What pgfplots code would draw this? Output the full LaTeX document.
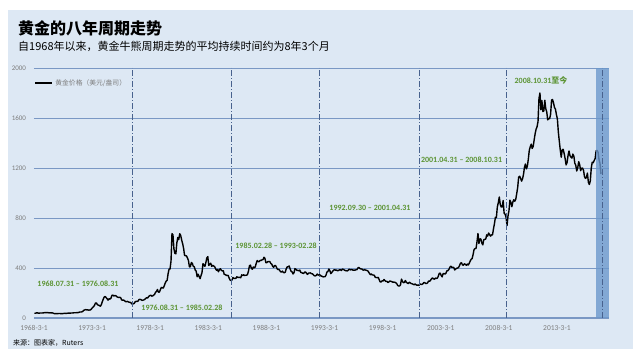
\documentclass[border=0pt]{standalone}
\usepackage{pgfplots}
\usepackage{pgfplotstable}
\pgfplotsset{compat=1.18}
\usepackage{fontspec}
\setmainfont{Carlito}
\newfontfamily\cjk{Noto Sans CJK SC}
\definecolor{bg}{RGB}{221,232,244}
\definecolor{gridc}{RGB}{122,152,196}
\definecolor{vline}{RGB}{72,98,142}
\definecolor{anno}{RGB}{92,148,52}
\definecolor{band}{RGB}{108,152,204}
\definecolor{tickc}{RGB}{125,125,125}
\pgfplotstableread[row sep=\\, header=false]{
38\\38\\41\\41\\39\\39\\40\\40\\40\\41\\
42\\43\\43\\43\\43\\41\\42\\41\\41\\40\\36\\35\\
35\\35\\35\\36\\36\\35\\35\\35\\36\\38\\37\\37\\
38\\39\\39\\39\\40\\40\\41\\42\\42\\42\\43\\43\\
46\\48\\48\\49\\54\\62\\65\\67\\65\\65\\63\\64\\
65\\74\\84\\90\\102\\120\\120\\106\\103\\100\\94\\106\\
129\\150\\168\\172\\163\\154\\143\\154\\151\\158\\181\\183\\
176\\180\\178\\170\\167\\164\\165\\163\\144\\142\\143\\139\\
131\\131\\133\\128\\126\\125\\118\\110\\114\\117\\130\\133\\
132\\136\\148\\149\\147\\141\\143\\145\\149\\158\\162\\161\\
173\\178\\183\\175\\176\\183\\188\\206\\212\\228\\206\\208\\
227\\245\\242\\239\\257\\279\\295\\301\\355\\392\\392\\456\\
675\\665\\553\\517\\513\\600\\644\\627\\674\\661\\623\\595\\
557\\500\\499\\496\\480\\460\\409\\410\\444\\437\\413\\410\\
384\\374\\330\\350\\333\\315\\339\\364\\435\\422\\414\\444\\
481\\491\\420\\432\\438\\413\\422\\416\\412\\394\\382\\388\\
370\\386\\394\\381\\377\\378\\348\\348\\341\\340\\341\\320\\
303\\299\\304\\324\\316\\317\\317\\330\\324\\325\\325\\322\\
345\\339\\346\\340\\342\\342\\348\\376\\418\\423\\397\\390\\
408\\401\\409\\438\\460\\450\\451\\461\\460\\465\\467\\486\\
477\\442\\443\\451\\451\\452\\437\\431\\413\\406\\420\\419\\
404\\388\\390\\384\\371\\367\\375\\365\\362\\367\\394\\409\\
410\\416\\393\\374\\369\\352\\362\\395\\389\\381\\381\\378\\
383\\364\\363\\358\\357\\367\\368\\356\\349\\359\\360\\361\\
354\\354\\345\\338\\337\\341\\352\\343\\345\\344\\335\\334\\
329\\330\\330\\342\\367\\372\\392\\379\\355\\364\\374\\383\\
387\\382\\384\\377\\381\\385\\386\\380\\391\\389\\384\\379\\
379\\376\\382\\391\\385\\387\\386\\383\\383\\383\\386\\387\\
400\\405\\396\\393\\392\\385\\383\\387\\383\\381\\378\\369\\
355\\346\\352\\344\\344\\341\\324\\324\\323\\325\\306\\289\\
289\\297\\296\\308\\299\\292\\293\\284\\289\\296\\294\\291\\
287\\287\\286\\282\\277\\261\\256\\256\\265\\311\\293\\283\\
284\\300\\286\\280\\275\\286\\282\\275\\274\\270\\266\\272\\
266\\262\\263\\261\\272\\270\\268\\273\\283\\283\\276\\276\\
282\\296\\294\\302\\314\\321\\314\\310\\319\\317\\319\\333\\
357\\359\\340\\329\\355\\356\\351\\360\\379\\379\\389\\407\\
414\\405\\406\\404\\384\\392\\398\\400\\405\\420\\439\\442\\
424\\423\\434\\429\\422\\431\\424\\438\\456\\470\\476\\510\\
549\\555\\557\\610\\676\\596\\633\\632\\599\\585\\627\\629\\
631\\665\\655\\680\\667\\655\\665\\665\\713\\754\\806\\803\\
889\\922\\968\\909\\888\\889\\939\\839\\830\\806\\740\\816\\
858\\943\\924\\890\\928\\946\\934\\949\\996\\1043\\1127\\1134\\
1118\\1095\\1113\\1148\\1205\\1232\\1193\\1215\\1271\\1342\\1370\\1391\\
1356\\1372\\1424\\1473\\1510\\1529\\1572\\1756\\1800\\1666\\1739\\1652\\
1656\\1742\\1674\\1650\\1585\\1596\\1594\\1630\\1744\\1747\\1721\\1684\\
1671\\1627\\1593\\1487\\1414\\1343\\1286\\1347\\1349\\1316\\1275\\1225\\
1244\\1300\\1336\\1299\\1287\\1279\\1311\\1296\\1238\\1222\\1176\\1200\\
1251\\1227\\1179\\1198\\1199\\1181\\1131\\1117\\1125\\1159\\1086\\1068\\
1097\\1200\\1246\\1242\\1260\\1276\\1337\\1341\\1326\\1267\\1238\\1152\\
}\goldtable
\begin{document}
\begin{tikzpicture}
\path[use as bounding box] (0pt,0pt) rectangle (641pt,361pt);
\fill[white] (0pt,0pt) rectangle (641pt,361pt);
\fill[bg] (8pt,12pt) rectangle (633pt,351pt);
\node[anchor=west, inner sep=0, font=\cjk\bfseries\fontsize{16}{18}\selectfont] at (18pt,333pt) {黄金的八年周期走势};
\node[anchor=west, inner sep=0, font=\cjk\fontsize{11}{13}\selectfont] at (18pt,314.5pt) {自1968年以来，黄金牛熊周期走势的平均持续时间约为8年3个月};
\node[anchor=west, inner sep=0, font=\cjk\fontsize{7}{8}\selectfont] at (13pt,18pt) {来源：图表家，Ruters};
\begin{axis}[
  at={(34pt,43pt)}, anchor=south west, scale only axis,
  width=575pt, height=250pt,
  xmin=1968.1667, xmax=2017.65, ymin=0, ymax=2000,
  axis x line=bottom, axis y line=left,
  x axis line style={gridc, line width=1.4pt, -},
  y axis line style={draw=none},
  major tick length=0pt,
  ytick={0,400,800,1200,1600,2000},
  xtick={1968.1667,1973.1667,1978.1667,1983.1667,1988.1667,1993.1667,1998.1667,2003.1667,2008.1667,2013.1667},
  xticklabels={1968-3-1,1973-3-1,1978-3-1,1983-3-1,1988-3-1,1993-3-1,1998-3-1,2003-3-1,2008-3-1,2013-3-1},
  ymajorgrids, grid style={gridc, line width=0.8pt},
  tick label style={font=\fontsize{7.5}{8}\selectfont, text=tickc},
  xticklabel style={yshift=-4pt},
  yticklabel style={xshift=-4.5pt, font=\fontsize{7}{8}\selectfont},
  /pgf/number format/assume math mode=true,
  /pgf/number format/set thousands separator={},
  legend style={draw=none, fill=none, at={(0.0,0.94)}, anchor=west,
    font=\cjk\fontsize{6.8}{8}\selectfont, text=tickc, inner sep=0pt},
  legend image code/.code={\draw[black, line width=2.2pt] (0pt,0pt) -- (17pt,0pt);},
  clip=false,
]
\addplot[black, line width=1.4pt, line join=round] table[x expr={1968.2083+\coordindex/12}, y index=0] {\goldtable};
\addlegendentry{黄金价格（美元/盎司）}
\fill[band, opacity=0.8] (axis cs:2016.55,0) rectangle (axis cs:2017.65,2000);
\draw[vline, line width=1.1pt, dash pattern=on 6pt off 2pt on 1pt off 2pt] (axis cs:1976.667,0) -- (axis cs:1976.667,2000);
\draw[vline, line width=1.1pt, dash pattern=on 6pt off 2pt on 1pt off 2pt] (axis cs:1985.16,0) -- (axis cs:1985.16,2000);
\draw[vline, line width=1.1pt, dash pattern=on 6pt off 2pt on 1pt off 2pt] (axis cs:1992.75,0) -- (axis cs:1992.75,2000);
\draw[vline, line width=1.1pt, dash pattern=on 6pt off 2pt on 1pt off 2pt] (axis cs:2001.33,0) -- (axis cs:2001.33,2000);
\draw[vline, line width=1.1pt, dash pattern=on 6pt off 2pt on 1pt off 2pt] (axis cs:2008.83,0) -- (axis cs:2008.83,2000);
\draw[vline, line width=1.1pt, dash pattern=on 6pt off 2pt on 1pt off 2pt] (axis cs:2017.1,0) -- (axis cs:2017.1,2000);
\begin{scope}[every node/.style={font=\bfseries\fontsize{8}{9}\selectfont, text=anno, inner sep=0}]
\node at (axis cs:1971.95,272) {1968.07.31 – 1976.08.31};
\node at (axis cs:1980.9,80) {1976.08.31 – 1985.02.28};
\node at (axis cs:1989.0,576) {1985.02.28 – 1993-02.28};
\node at (axis cs:1997.08,880) {1992.09.30 – 2001.04.31};
\node at (axis cs:2004.96,1264) {2001.04.31 – 2008.10.31};
\node at (axis cs:2011.8,1904) {2008.10.31{\cjk\bfseries 至今}};
\end{scope}
\end{axis}
\end{tikzpicture}
\end{document}
